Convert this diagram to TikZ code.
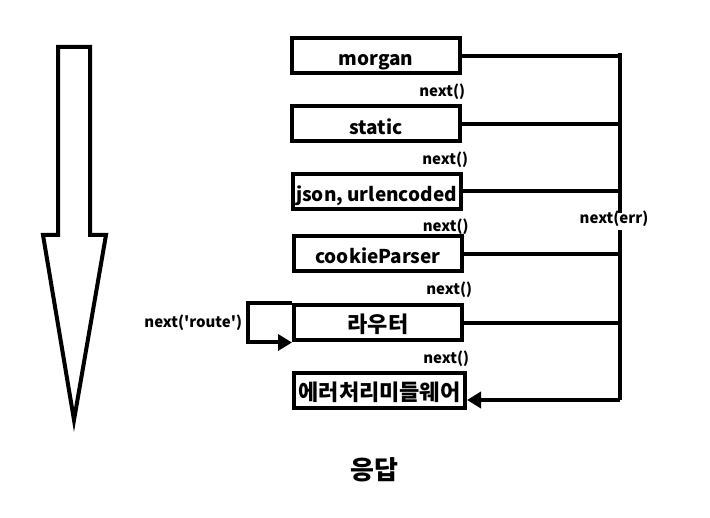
\documentclass[tikz,border=0pt]{standalone}
\usepackage{fontspec}
\setmainfont{Noto Sans CJK KR}
\newfontfamily\lblfont{Noto Sans CJK KR}
\usetikzlibrary{positioning, calc, arrows.meta}

\begin{document}
\begin{tikzpicture}[x=1pt, y=-1pt, line width=4pt,
    mware/.style={draw, line width=4pt, minimum width=168pt, minimum height=35pt,
      inner sep=0pt, text height=21.5pt, text depth=2pt,
      font=\bfseries\fontsize{19}{21}\selectfont},
    kor/.style={font=\bfseries\fontsize{22}{24}\selectfont},
    lbl/.style={font=\lblfont\bfseries\fontsize{15}{17}\selectfont, inner sep=0pt},
    tip/.style={-{Triangle[length=14pt,width=16pt]}}]
                \useasboundingbox (0,0) rectangle (710,518);

                % flow arrow
                \draw[line join=miter] (58,47) -- (90,47) -- (90,235) -- (106,235)
                    -- (74,420) -- (43,235) -- (58,235) -- cycle;

                \node[mware] (morgan) at (376,56) {morgan};
                \node[mware, text depth=-2pt] (static) at (376,124) {static};
                \node[mware] (json) at (376.5,191.5) {json, urlencoded};
                \node[mware] (cookie) at (378,254) {cookieParser};
                \node[mware, kor] (router) at (378,323) {라우터};
                \node[mware, kor, minimum width=171pt] (err) at (379.5,390.5) {에러처리미들웨어};

                % next() labels
                \node[lbl, below left=6pt and -5pt of morgan.south east] (n1) {next()};
                \node[lbl, below left=6pt and -8pt of static.south east] (n2) {next()};
                \node[lbl, below left=6pt and -8pt of json.south east] (n3) {next()};
                \node[lbl, below left=6pt and -10pt of cookie.south east] (n4) {next()};
                \node[lbl, below left=6pt and -7pt of router.south east] (n5) {next()};

                % error bus
                \coordinate (bustop) at (620,53);
                \coordinate (busgap) at (620,213);
                \node[lbl] (nerr) at (614,219) {next(err)};
                \coordinate (busmid) at (620,230);
                \coordinate (busend) at (620,400);
                \draw (bustop) -- (busgap);
                \draw (busmid) -- (busend);
                \draw (morgan.east) -- (morgan.east -| bustop);
                \draw (static.east) -- (static.east -| bustop);
                \draw (json.east) -- (json.east -| bustop);
                \draw (cookie.east) -- (cookie.east -| bustop);
                \draw (router.east) -- (router.east -| bustop);
                \draw[tip] (busend) -- (busend -| err.east);

                % next('route') loop
                \coordinate (rloop) at ($(router.north west)+(-44,0)$);
                \draw[tip] (router.north west) -- (rloop) |- (router.south west);
                \node[lbl, left=4pt of rloop |- router.west] (nroute) {next('route')};

                \node[font=\bfseries\fontsize{26}{28}\selectfont] (resp) at (374,470) {응답};
            \end{tikzpicture}
\end{document}
